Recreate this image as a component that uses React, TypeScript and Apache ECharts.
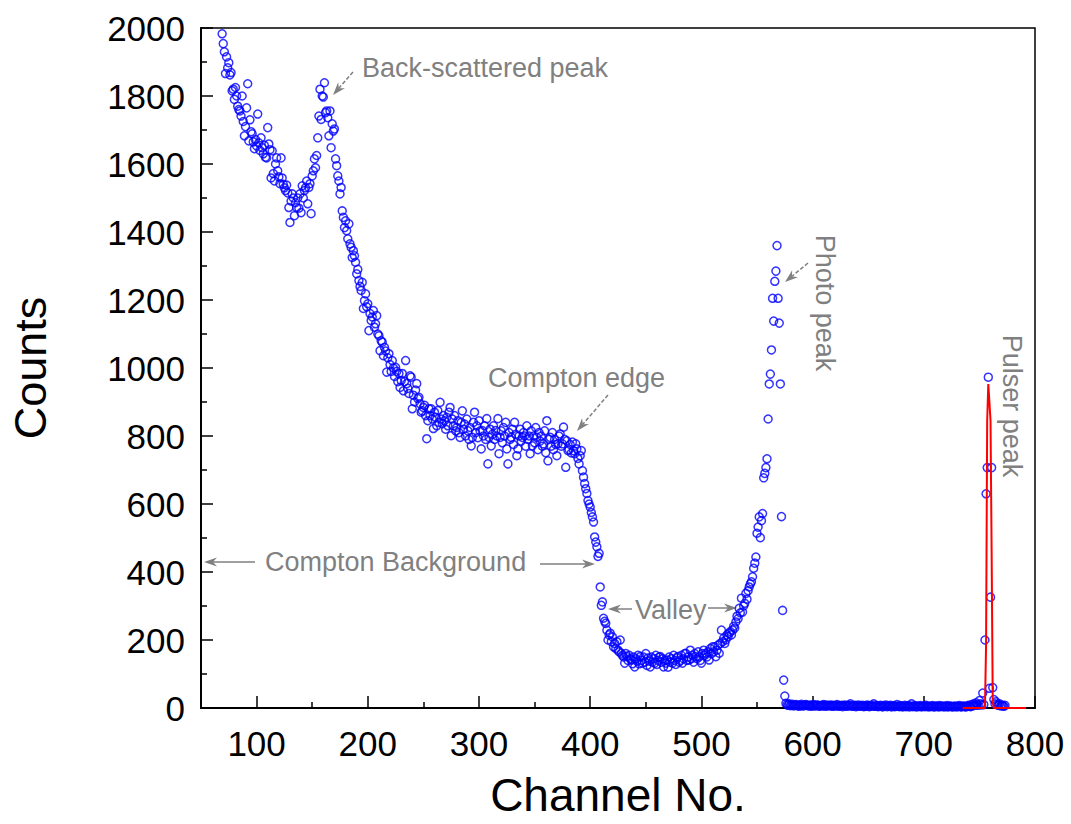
import React, { useEffect, useRef } from "react";
import * as echarts from "echarts";

// ---- axis ticks ----
const xTickValues = [100, 200, 300, 400, 500, 600, 700, 800];
const xMinorTickValues = [150, 250, 350, 450, 550, 650, 750];

// ---- blue spectrum (one value per channel) ----
const backscatterStart = 69;
const backscatterCounts = [
  1983, 1954, 1930, 1866, 1915, 1883, 1898, 1862, 1869, 1815, 1820,
  1790, 1825, 1800, 1770, 1760, 1756, 1741, 1800, 1725, 1683,
  1710, 1765, 1836, 1668, 1730, 1695, 1689, 1665, 1645, 1672,
  1653, 1747, 1662, 1640, 1677, 1648, 1630, 1655, 1620, 1618,
  1707, 1659, 1642, 1559, 1639, 1572, 1550, 1600, 1618, 1580,
  1562, 1542, 1618, 1559, 1540, 1530, 1522, 1538, 1515, 1472,
  1428, 1491, 1512, 1500, 1448, 1486, 1472, 1500, 1470, 1512,
  1457, 1536, 1500, 1522, 1530, 1550, 1483, 1531, 1542, 1454,
  1565, 1580, 1615, 1589, 1625, 1677, 1741, 1820, 1731, 1800,
  1797, 1839, 1751, 1756, 1736, 1683, 1756, 1648, 1718, 1697,
  1703, 1615, 1595, 1565, 1550, 1512, 1531, 1462, 1443, 1413,
  1433, 1404, 1380, 1424, 1365, 1355, 1325, 1345, 1330, 1311,
  1277, 1290, 1257, 1240, 1228, 1252, 1175, 1198, 1218, 1180,
  1189, 1110, 1160, 1140, 1150, 1169, 1120, 1130, 1154, 1100,
  1095, 1051, 1080, 1076, 1036, 1061, 1050, 988, 1030, 1042,
  1010, 990, 1022, 1000, 975, 1002, 990, 960, 984, 943,
  963, 984, 933, 960, 1022, 954, 940, 925, 977, 973,
  880, 920, 900, 935, 954, 910, 914, 895, 870, 874,
];
const plateauStart = 250;
const plateauCounts = [
  884,
  890, 860, 792, 845, 880, 860, 880, 850, 822, 870,
  855, 830, 875, 840, 899, 850, 836, 860, 845, 820,
  855, 830, 870, 884, 801, 850, 830, 860, 815, 825,
  845, 810, 796, 840, 874, 820, 835, 800, 850, 815,
  790, 825, 771, 796, 840, 870, 810, 830, 795, 845,
  815, 762, 816, 800, 830, 790, 851, 718, 796, 820,
  771, 805, 830, 790, 816, 800, 851, 748, 796, 815,
  780, 825, 800, 840, 762, 718, 810, 790, 796, 820,
  775, 840, 805, 742, 762, 800, 820, 785, 796, 810,
];
const edgeValleyStart = 341;
const edgeValleyCounts = [
  800,
  770, 830, 790, 800, 748, 815, 771, 800, 780, 825,
  796, 760, 810, 785, 800, 770, 777, 815, 751, 845,
  727, 790, 796, 770, 810, 760, 790, 775, 742, 777,
  800, 806, 770, 777, 826, 790, 708, 786, 757, 760,
  775, 750, 782, 757, 748, 777, 762, 734, 718, 742,
  757, 698, 679, 660, 645, 631, 610, 600, 591, 575,
  562, 547, 503, 488, 474, 446, 455, 356, 302, 312,
  264, 255, 249, 229, 200, 215, 220, 195, 209, 180,
  190, 175, 195, 170, 165, 200, 161, 155, 150, 132,
  160, 151, 140, 155, 145, 141, 130, 150, 121, 145,
  138, 155, 130, 151, 140, 132, 150, 135, 160, 125,
  147, 138, 121, 150, 135, 145, 132, 155, 128, 140,
  150, 151, 135, 145, 121, 140, 132, 141, 120, 150,
  135, 145, 132, 155, 140, 128, 148, 151, 135, 140,
  155, 132, 145, 160, 161, 140, 150, 141, 170, 145,
  155, 135, 160, 151, 145, 165, 150, 140, 132, 160,
  170, 155, 161, 150, 165, 141, 175, 160, 180, 165,
  180, 151, 170, 185, 161, 190, 229, 195, 205, 190,
  200, 215, 210, 220, 225, 215, 229, 240, 235, 253,
  270, 263, 293, 280, 323, 282, 300,
];
const photoStart = 539;
const photoCounts = [
  308, 337, 320, 345, 356, 365, 371, 386, 411, 426, 444,
  514, 532, 562, 501, 551, 572, 677, 690, 707, 733,
  850, 953, 982, 1053, 1205, 1138, 1255, 1285, 1360,
  1205, 1132, 953, 563, 287, 82, 35, 14,
];
const tailStart = 577;
const tailCounts = [
  10, 8, 12, 7, 9, 11, 6, 8, 10, 7,
  9, 5, 8, 11, 7, 6, 9, 10, 8, 6,
  7, 9, 5, 8, 10, 6, 7, 9, 8, 5,
  6, 8, 7, 10, 5, 9, 6, 7, 8, 6,
  9, 5, 7, 6, 8, 10, 5, 7, 6, 8,
  4, 7, 9, 6, 5, 8, 7, 12, 6, 5,
  7, 8, 4, 6, 9, 5, 7, 6, 8, 4,
  6, 5, 9, 7, 4, 6, 8, 5, 12, 6,
  5, 7, 4, 6, 8, 5, 3, 7, 6, 9,
  4, 6, 5, 8, 3, 6, 7, 4, 5, 10,
  6, 4, 7, 5, 3, 6, 8, 4, 5, 7,
  3, 6, 12, 4, 5, 7, 3, 6, 4, 5,
  7, 3, 5, 6, 4, 8, 5, 3, 6, 4,
  5, 7, 3, 4, 6, 5, 3, 7, 4, 5,
  6, 3, 5, 4, 7, 3, 5, 6, 4, 3,
  5, 4, 6, 3, 5, 7, 4, 3, 6, 5,
  4, 3, 6, 8, 5, 4, 10, 6, 12, 8,
  15, 10, 8, 22, 12,
  9, 44, 10, 200, 630, 707, 973, 58, 326, 707, 60,
  25, 12, 18, 10, 8, 12, 6, 9, 7, 5, 8,
];

// ---- red pulser line ----
const pulserChannels = [735, 755, 756, 757, 758, 759, 760, 761, 762, 763, 792];
const pulserCounts = [0, 0, 185, 845, 953, 900, 845, 457, 20, 0, 0];

// ---- annotations (pixel layout) ----
const annotationTexts = [
  { text: "Back-scattered peak", x: 362, y: 68, rotate: 0 },
  { text: "Compton edge", x: 488, y: 378, rotate: 0 },
  { text: "Compton Background", x: 265, y: 562, rotate: 0 },
  { text: "Valley", x: 635, y: 610, rotate: 0 },
  { text: "Photo peak", x: 825, y: 303, rotate: -90 },
  { text: "Pulser peak", x: 1012, y: 406, rotate: -90 },
];
const annotationArrows = [
  { from: [353, 72], to: [333, 95], dashed: true },
  { from: [608, 395], to: [577, 431], dashed: true },
  { from: [255, 562], to: [204, 562], dashed: false },
  { from: [540, 564], to: [595, 564], dashed: false },
  { from: [632, 609], to: [608, 609], dashed: false },
  { from: [708, 608], to: [737, 608], dashed: false },
  { from: [808, 263], to: [785, 282], dashed: true },
];

const FONT = "'Liberation Sans', Arial, sans-serif";
const GRAY = "#808080";

function toPoints(start: number, counts: number[]) {
  return counts.map((c, i) => [start + i, c]);
}

function arrowElements(a: { from: number[]; to: number[]; dashed: boolean }) {
  const [x1, y1] = a.from;
  const [x2, y2] = a.to;
  const dx = x2 - x1;
  const dy = y2 - y1;
  const len = Math.hypot(dx, dy);
  const ux = dx / len;
  const uy = dy / len;
  const px = -uy;
  const py = ux;
  const hl = 13;
  const hw = 4.5;
  const notch = 9;
  const nx = x2 - ux * notch;
  const ny = y2 - uy * notch;
  return [
    {
      type: "line",
      shape: { x1, y1, x2: nx, y2: ny },
      style: { stroke: GRAY, lineWidth: 1.5, lineDash: a.dashed ? [4, 2] : null },
    },
    {
      type: "polygon",
      shape: {
        points: [
          [x2, y2],
          [x2 - ux * hl + px * hw, y2 - uy * hl + py * hw],
          [nx, ny],
          [x2 - ux * hl - px * hw, y2 - uy * hl - py * hw],
        ],
      },
      style: { fill: GRAY },
    },
  ];
}

export default function App() {
  const ref = useRef<HTMLDivElement>(null);
  useEffect(() => {
    if (!ref.current) return;
    const chart = echarts.init(ref.current, null, { renderer: "svg" });
    const spectrum = [
      ...toPoints(backscatterStart, backscatterCounts),
      ...toPoints(plateauStart, plateauCounts),
      ...toPoints(edgeValleyStart, edgeValleyCounts),
      ...toPoints(photoStart, photoCounts),
      ...toPoints(tailStart, tailCounts),
    ];
    const pulser = pulserChannels.map((c, i) => [c, pulserCounts[i]]);

    const graphics: any[] = [];
    annotationTexts.forEach((t) => {
      graphics.push({
        type: "text",
        x: t.x,
        y: t.y,
        rotation: (t.rotate * Math.PI) / 180,
        style: {
          text: t.text,
          fill: GRAY,
          fontSize: 27,
          fontFamily: FONT,
          align: t.rotate ? "center" : "left",
          verticalAlign: "middle",
        },
        z: 10,
      });
    });
    annotationArrows.forEach((a) => graphics.push(...arrowElements(a)));

    chart.setOption({
      animation: false,
      backgroundColor: "#ffffff",
      textStyle: { fontFamily: FONT },
      grid: {
        left: 201,
        top: 28,
        width: 834,
        height: 680,
        show: true,
        borderColor: "#000",
        borderWidth: 1.5,
        backgroundColor: "transparent",
        outerBoundsMode: "none",
      },
      xAxis: [
        {
          type: "value",
          min: 50,
          max: 800,
          position: "bottom",
          name: "Channel No.",
          nameLocation: "middle",
          nameGap: 64,
          nameTextStyle: { fontSize: 46, color: "#000", fontFamily: FONT },
          axisLine: { show: true, onZero: false, lineStyle: { color: "#000", width: 2 } },
          axisTick: {
            show: true,
            inside: true,
            length: 12,
            customValues: xTickValues,
            lineStyle: { color: "#000", width: 1.5 },
          },
          axisLabel: {
            customValues: xTickValues,
            fontSize: 35,
            color: "#000",
            fontFamily: FONT,
            margin: 18,
            formatter: (v: number) => String(v),
          },
          splitLine: { show: false },
        },
        {
          type: "value",
          min: 50,
          max: 800,
          position: "bottom",
          axisLine: { show: false, onZero: false },
          axisTick: {
            show: true,
            inside: true,
            length: 6,
            customValues: xMinorTickValues,
            lineStyle: { color: "#000", width: 1.5 },
          },
          axisLabel: { show: false },
          splitLine: { show: false },
        },
      ],
      yAxis: {
        type: "value",
        min: 0,
        max: 2000,
        interval: 200,
        name: "Counts",
        nameLocation: "middle",
        nameGap: 148,
        nameRotate: 90,
        nameTextStyle: { fontSize: 45, color: "#000", fontFamily: FONT },
        axisLine: { show: true, onZero: false, lineStyle: { color: "#000", width: 2 } },
        axisTick: { show: true, inside: true, length: 12, lineStyle: { color: "#000", width: 1.5 } },
        minorTick: { show: true, splitNumber: 2, length: 6, lineStyle: { color: "#000", width: 1.5 } },
        axisLabel: {
          fontSize: 35,
          color: "#000",
          fontFamily: FONT,
          margin: 16,
          formatter: (v: number) => String(v),
        },
        splitLine: { show: false },
      },
      series: [
        {
          type: "scatter",
          data: spectrum,
          symbol: "circle",
          symbolSize: 8,
          itemStyle: { color: "rgba(0,0,0,0)", borderColor: "#0000ff", borderWidth: 1.5 },
          progressive: 0,
          z: 2,
        },
        {
          type: "line",
          data: pulser,
          showSymbol: false,
          symbol: "none",
          lineStyle: { color: "#ff0000", width: 2 },
          z: 3,
        },
      ],
      graphic: graphics,
    });
    return () => chart.dispose();
  }, []);
  return (
    <div
      ref={ref}
      style={{ position: "absolute", left: 0, top: 0, width: 1071, height: 824 }}
    />
  );
}
